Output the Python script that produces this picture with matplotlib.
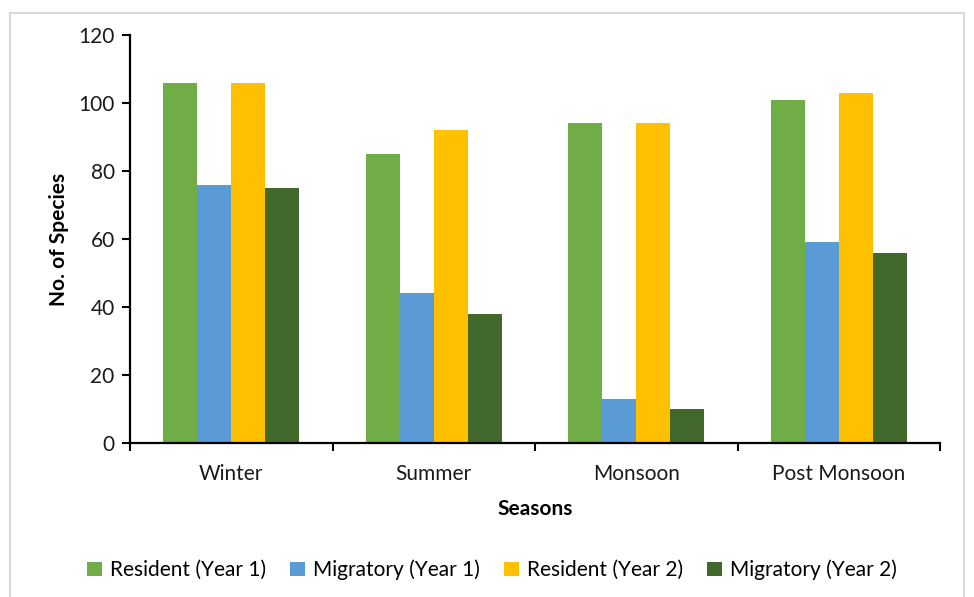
import numpy as np
import matplotlib.pyplot as plt
from matplotlib.patches import Rectangle

plt.rcParams['font.family'] = ['Lato', 'DejaVu Sans']

seasons = ['Winter', 'Summer', 'Monsoon', 'Post Monsoon']
series_names = ['Resident (Year 1)', 'Migratory (Year 1)', 'Resident (Year 2)', 'Migratory (Year 2)']
resident_y1 = [106, 85, 94, 101]
migratory_y1 = [76, 44, 13, 59]
resident_y2 = [106, 92, 94, 103]
migratory_y2 = [75, 38, 10, 56]
colors = ['#70ad47', '#5b9bd5', '#ffc000', '#43682b']

W, H = 974, 597
fs = 15
fig = plt.figure(figsize=(W / 100, H / 100), dpi=100)
ax = fig.add_axes([130 / W, 1 - 443 / H, 810 / W, 408 / H])

x = np.arange(len(seasons))
bw = 0.168
all_series = [resident_y1, migratory_y1, resident_y2, migratory_y2]
for i, (vals, name, c) in enumerate(zip(all_series, series_names, colors)):
    ax.bar(x + (i - 1.5) * bw, vals, bw, color=c, label=name, zorder=2)

ax.set_xlim(-0.5, len(seasons) - 0.5)
ax.set_ylim(0, 120)
ax.set_yticks(range(0, 121, 20))

# ticks sit on the category boundaries, labels at the centres
ax.set_xticks(np.arange(-0.5, len(seasons), 1.0))
ax.set_xticklabels([])
ax.set_xticks(x, minor=True)
ax.set_xticklabels(seasons, minor=True)
ax.tick_params(axis='x', which='minor', length=0, pad=15, labelsize=fs, labelcolor='#1a1a1a')
ax.tick_params(axis='x', which='major', length=6, width=1.5, direction='out')
ax.tick_params(axis='y', length=6, width=1.5, direction='out', pad=5, labelsize=fs, labelcolor='#1a1a1a')

for s in ['top', 'right']:
    ax.spines[s].set_visible(False)
for s in ['left', 'bottom']:
    ax.spines[s].set_linewidth(1.6)
    ax.spines[s].set_color('black')
    ax.spines[s].set_zorder(3)

ax.set_ylabel('No. of Species', fontsize=fs, fontweight='bold', labelpad=7)
ax.set_xlabel('Seasons', fontsize=fs, fontweight='bold', labelpad=11)

fig.legend(loc='center', bbox_to_anchor=(492 / W, 1 - 570 / H), ncol=4, frameon=False,
           fontsize=fs, handlelength=0.7, handleheight=0.7, handletextpad=0.4,
           columnspacing=1.15)

fig.patches.append(Rectangle((10 / W, -0.05), 954 / W, 1.05 - 13 / H, transform=fig.transFigure,
                             fill=False, edgecolor='#d9d9d9', linewidth=1.5))

fig.savefig('out.png', dpi=100)
